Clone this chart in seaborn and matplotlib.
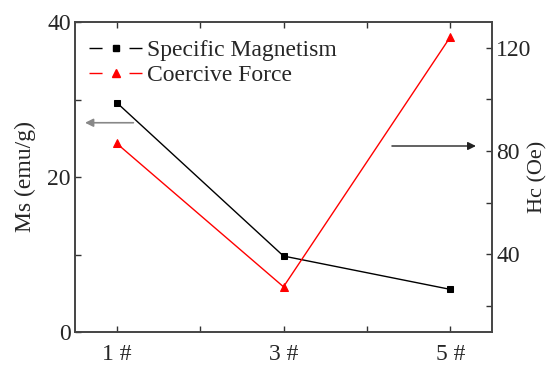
import matplotlib
matplotlib.use("Agg")
import matplotlib.pyplot as plt
import seaborn as sns
import pandas as pd
from matplotlib.lines import Line2D

sns.set_style("ticks")
plt.rcParams['font.family'] = ['Liberation Serif', 'DejaVu Serif']

samples = [1, 3, 5]
tick_labels = ["1 #", "3 #", "5 #"]
ms_values = [29.6, 9.8, 5.5]
hc_values = [83.0, 27.5, 124.2]

df = pd.DataFrame({"x": samples, "Ms": ms_values, "Hc": hc_values})

fig = plt.figure(figsize=(5.52, 3.74), dpi=100)
ax = fig.add_axes([75/552, 42/374, 417/552, 310/374])
ax2 = ax.twinx()

sns.lineplot(data=df, x="x", y="Ms", ax=ax, color="black", lw=1.0,
             marker="s", markersize=4.5, markeredgecolor="black")
sns.lineplot(data=df, x="x", y="Hc", ax=ax2, color="red", lw=1.0,
             marker="^", markersize=5.5, markeredgecolor="red")

ax.set_xlim(0.5, 5.5)
ax.set_ylim(0, 40)
ax2.set_ylim(10, 130)
ax.set_xticks([1, 2, 3, 4, 5])
ax.set_xticklabels([tick_labels[0], "", tick_labels[1], "", tick_labels[2]])
ax.set_yticks([0, 10, 20, 30, 40])
ax.set_yticklabels(["0", "", "20", "", "40"])
ax2.set_yticks([20, 40, 60, 80, 100, 120])
ax2.set_yticklabels(["", "40", "", "80", "", "120"])

fs = 17
ax.set_xlabel("")
ax.set_ylabel("Ms (emu/g)", fontsize=17, labelpad=8)
ax2.set_ylabel("Hc (Oe)", fontsize=16, va="center")
ax2.yaxis.set_label_coords((538 - 75) / 417, 0.5)
for a in (ax, ax2):
    a.tick_params(direction="in", length=4, width=1, labelsize=fs, color="#333333")
    for s in a.spines.values():
        s.set_color("#444444")
        s.set_linewidth(1.2)
ax.tick_params(axis="x", top=True, pad=9)
ax.tick_params(axis="y", pad=3)
ax2.tick_params(axis="y", pad=3)

handles = [
    Line2D([], [], color="black", lw=1.0, marker="s", markersize=4.5, dashes=(9.4, 19.4)),
    Line2D([], [], color="red", lw=1.0, marker="^", markersize=5.5, dashes=(9.4, 19.4)),
]
ax.legend(handles, ["Specific Magnetism", "Coercive Force"], loc="upper left",
          frameon=False, fontsize=fs, handlelength=2.24, borderaxespad=0.2,
          labelspacing=0.15, handletextpad=0.2, bbox_to_anchor=(0.0, 0.99))

ax.annotate("", xy=(0.5 + 10/83, 27.0), xytext=(1.2, 27.0),
            arrowprops=dict(arrowstyle="-|>", color="#888888", lw=1.2,
                            mutation_scale=12, shrinkA=0, shrinkB=0))
ax2.annotate("", xy=(5.5 - 16/83, 82.0), xytext=(4.3, 82.0),
             arrowprops=dict(arrowstyle="-|>", color="#222222", lw=1.0,
                             mutation_scale=12, shrinkA=0, shrinkB=0))

fig.savefig("out.png", dpi=100)
